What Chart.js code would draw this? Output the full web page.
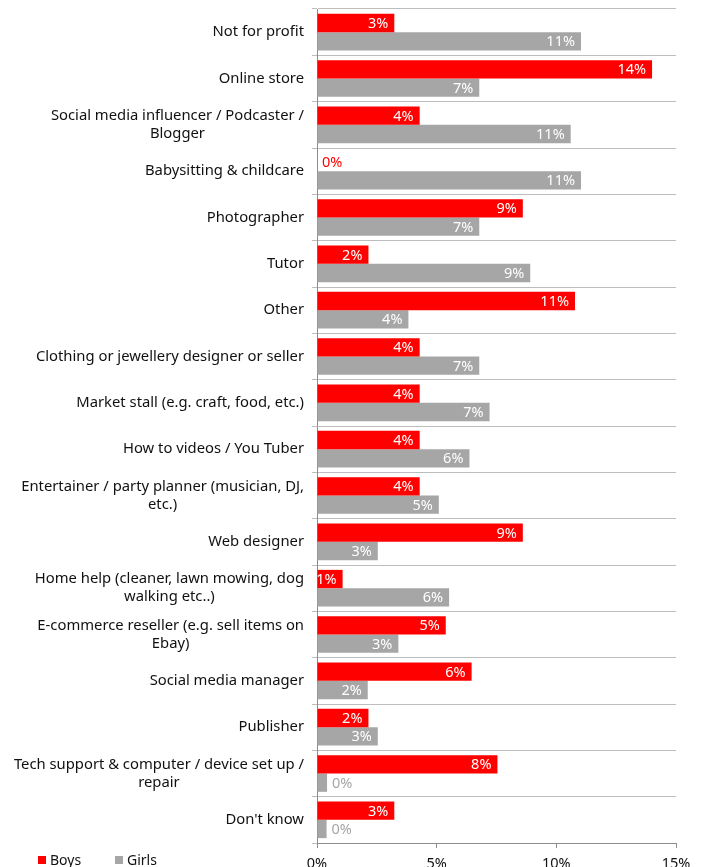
<!DOCTYPE html>
<html>
<head>
<meta charset="utf-8">
<script src="https://cdn.jsdelivr.net/npm/chart.js@4.4.1/dist/chart.umd.min.js"></script>
<style>
  html, body { margin: 0; padding: 0; background: #ffffff; overflow: hidden; }
  #wrap { position: relative; width: 704px; height: 867px; }
</style>
</head>
<body>
<div id="wrap"><canvas id="chart"></canvas></div>
<script>
// Categories (multi-line labels are arrays of lines)
const categories = [
  "Not for profit",
  "Online store",
  ["Social media influencer / Podcaster /", "Blogger"],
  "Babysitting & childcare",
  "Photographer",
  "Tutor",
  "Other",
  "Clothing or jewellery designer or seller",
  "Market stall (e.g. craft, food, etc.)",
  "How to videos / You Tuber",
  ["Entertainer / party planner (musician, DJ,", "etc.)"],
  "Web designer",
  ["Home help (cleaner, lawn mowing, dog", "walking etc..)"],
  ["E-commerce reseller (e.g. sell items on", "Ebay)"],
  "Social media manager",
  "Publisher",
  ["Tech support & computer / device set up /", "repair"],
  "Don't know"
];

// Share of respondents, %
const boys  = [3.23, 14.0, 4.29, 0, 8.6, 2.15, 10.78, 4.29, 4.29, 4.29, 4.29, 8.6, 1.07, 5.38, 6.46, 2.15, 7.54, 3.23];
const girls = [11.03, 6.78, 10.6, 11.03, 6.78, 8.91, 3.82, 6.78, 7.21, 6.37, 5.09, 2.54, 5.52, 3.4, 2.12, 2.54, 0.42, 0.4];

// Value axis ticks
const xTicks = [0, 5, 10, 15];

const RED = "#ff0000";
const GREY = "#a6a6a6";
const FONT = "'Noto Sans', 'Open Sans', sans-serif";

// Value labels at the end of each bar
const barValueLabels = {
  id: "barValueLabels",
  afterDatasetsDraw(chart) {
    const ctx = chart.ctx;
    ctx.save();
    ctx.font = "14.5px " + FONT;
    ctx.textBaseline = "middle";
    chart.data.datasets.forEach((ds, di) => {
      const meta = chart.getDatasetMeta(di);
      meta.data.forEach((bar, i) => {
        const v = ds.data[i];
        const r = Math.round(v);
        const text = r + "%";
        if (r === 0) {
          ctx.fillStyle = ds.backgroundColor;
          ctx.textAlign = "left";
          ctx.fillText(text, bar.x + 5, bar.y + 1);
        } else {
          ctx.fillStyle = "#ffffff";
          ctx.textAlign = "right";
          ctx.fillText(text, bar.x - 6, bar.y + 1);
        }
      });
    });
    ctx.restore();
  }
};

// Category labels: block right-aligned to the axis, lines centred within the block
const categoryLabels = {
  id: "categoryLabels",
  afterDraw(chart) {
    const ctx = chart.ctx;
    const y = chart.scales.y;
    const right = y.right - 13;
    const lh = 18;
    ctx.save();
    ctx.font = "14.8px " + FONT;
    ctx.fillStyle = "#111111";
    ctx.textAlign = "center";
    ctx.textBaseline = "middle";
    chart.data.labels.forEach((lab, i) => {
      const lines = Array.isArray(lab) ? lab : [lab];
      const w = Math.max(...lines.map(l => ctx.measureText(l).width));
      const cx = right - w / 2;
      const cy = y.getPixelForValue(i);
      const top = cy - (lines.length - 1) * lh / 2;
      lines.forEach((l, k) => ctx.fillText(l, cx, top + k * lh));
    });
    ctx.restore();
  }
};

// Legend drawn in the bottom-left corner
const cornerLegend = {
  id: "cornerLegend",
  afterDraw(chart) {
    const ctx = chart.ctx;
    const xs = [38, 115];
    const cy = 860;
    ctx.save();
    ctx.font = "14px " + FONT;
    ctx.textBaseline = "middle";
    ctx.textAlign = "left";
    chart.data.datasets.forEach((ds, i) => {
      ctx.fillStyle = ds.backgroundColor;
      ctx.fillRect(xs[i], cy - 4, 8, 8);
      ctx.fillStyle = "#111111";
      ctx.fillText(ds.label, xs[i] + 12, cy + 1);
    });
    ctx.restore();
  }
};

new Chart(document.getElementById("chart"), {
  type: "bar",
  data: {
    labels: categories,
    datasets: [
      { label: "Boys", data: boys, backgroundColor: RED, barPercentage: 1.0, categoryPercentage: 0.79 },
      { label: "Girls", data: girls, backgroundColor: GREY, barPercentage: 1.0, categoryPercentage: 0.79 }
    ]
  },
  options: {
    indexAxis: "y",
    responsive: true,
    maintainAspectRatio: false,
    animation: false,
    layout: { padding: { top: 9, right: 28, left: 0, bottom: 0 } },
    plugins: {
      legend: { display: false },
      tooltip: { enabled: false }
    },
    scales: {
      x: {
        min: 0,
        max: 15,
        afterBuildTicks(scale) { scale.ticks = xTicks.map(v => ({ value: v })); },
        afterFit(scale) { scale.height = 24; },
        border: { color: "#8c8c8c", width: 1 },
        grid: { drawOnChartArea: false, drawTicks: true, tickLength: 5, color: "#8c8c8c" },
        ticks: {
          padding: 7,
          color: "#111111",
          font: { family: FONT, size: 14.5 },
          callback: v => v + "%"
        }
      },
      y: {
        afterFit(scale) { scale.width = 317; },
        border: { color: "#8c8c8c", width: 1 },
        grid: { offset: true, drawTicks: true, tickLength: 5, color: "#bdbdbd", lineWidth: 1 },
        ticks: { display: false }
      }
    }
  },
  plugins: [barValueLabels, categoryLabels, cornerLegend]
});
</script>
</body>
</html>
